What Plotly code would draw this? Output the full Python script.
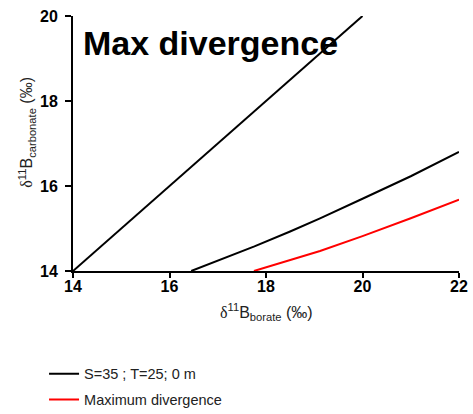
import plotly.graph_objects as go

# Data
one_x = [14, 20]
one_y = [14, 20]

base_x = [16.45, 17.0, 17.76, 18.5, 19.12, 20.0, 21.0, 22.0]
base_y = [14.0, 14.24, 14.58, 14.93, 15.24, 15.70, 16.23, 16.80]

maxdiv_x = [17.75, 18.5, 19.12, 20.0, 21.0, 22.0]
maxdiv_y = [14.0, 14.25, 14.47, 14.82, 15.24, 15.68]

x_ticks = [14, 16, 18, 20, 22]
y_ticks = [14, 16, 18, 20]

FONT = "Liberation Sans, Arial, sans-serif"

fig = go.Figure()
fig.add_trace(go.Scatter(x=one_x, y=one_y, mode="lines",
                         line=dict(color="black", width=2), showlegend=False))
fig.add_trace(go.Scatter(x=base_x, y=base_y, mode="lines", name="S=35 ; T=25; 0 m",
                         line=dict(color="black", width=2), legendgroup="a"))
fig.add_trace(go.Scatter(x=maxdiv_x, y=maxdiv_y, mode="lines", name="Maximum divergence",
                         line=dict(color="red", width=2), legendgroup="b"))

delta = "<span style=\"font-family:'Liberation Serif'\">δ</span>"

fig.update_layout(
    width=473, height=414,
    margin=dict(l=73, r=14, t=16, b=143, autoexpand=False),
    plot_bgcolor="white", paper_bgcolor="white",
    font=dict(family=FONT, color="black"),
    xaxis=dict(range=[14, 22], tickvals=x_ticks, showgrid=False, zeroline=False,
               showline=True, linecolor="black", linewidth=2,
               ticks="outside", ticklen=5, tickwidth=2, tickcolor="black",
               tickfont=dict(size=16, family=FONT, weight="bold"),
               ticklabelstandoff=-5, automargin=False),
    yaxis=dict(range=[14, 20], tickvals=y_ticks, showgrid=False, zeroline=False,
               showline=True, linecolor="black", linewidth=2,
               ticks="outside", ticklen=6, tickwidth=2, tickcolor="black",
               tickfont=dict(size=16, family=FONT, weight="bold"),
               ticklabelstandoff=4, automargin=False),
    legend=dict(x=-0.075, y=-0.34, xanchor="left", yanchor="top",
                font=dict(size=14.5, color="#222"), tracegroupgap=4,
                traceorder="grouped", itemwidth=30, bgcolor="rgba(0,0,0,0)"),
    annotations=[
        dict(text="<b>Max divergence</b>", x=0.022, y=0.895,
             xref="paper", yref="paper", xanchor="left", yanchor="middle",
             showarrow=False, font=dict(size=34, family=FONT, color="black")),
        dict(text=delta + "<sup>11</sup>B<sub>borate</sub> (‰)", x=0.5, y=-0.16,
             xref="paper", yref="paper", xanchor="center", yanchor="middle",
             showarrow=False, font=dict(size=16, family=FONT, color="#222")),
        dict(text=delta + "<sup>11</sup>B<sub>carbonate</sub> (‰)", x=-0.12, y=0.545,
             xref="paper", yref="paper", xanchor="center", yanchor="middle",
             textangle=-90, showarrow=False, font=dict(size=16, family=FONT, color="#222")),
    ],
)

fig.write_html("out.html", config={"displayModeBar": False},
               post_script="document.body.style.margin='0';document.body.style.padding='0';")
